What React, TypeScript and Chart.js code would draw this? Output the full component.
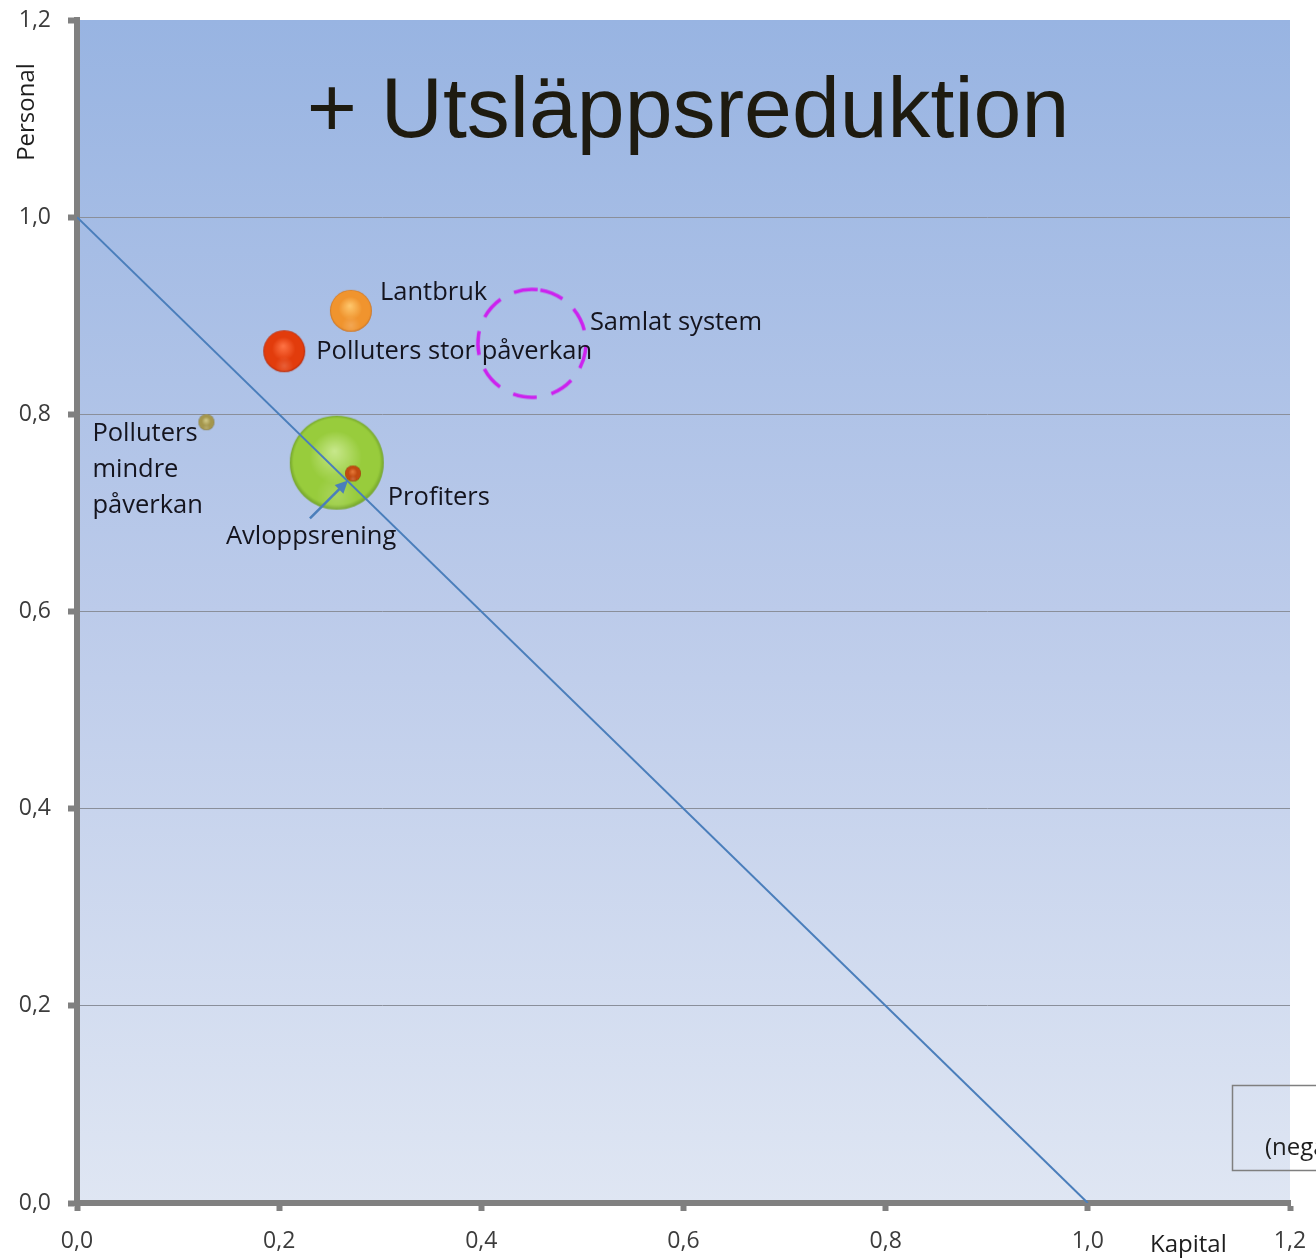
import { useEffect, useRef } from 'react';
import { Chart, registerables } from 'chart.js';

Chart.register(...registerables);

// ---- data ----
const bubbleNames = ['Lantbruk', 'Polluters stor påverkan', 'Polluters mindre påverkan', 'Profiters', 'Avloppsrening'];
const bubbleKapital = [0.271, 0.205, 0.128, 0.257, 0.273];
const bubblePersonal = [0.905, 0.864, 0.792, 0.751, 0.740];
const bubbleRadius = [21, 21, 8, 47, 8];

const systemName = 'Samlat system';
const systemKapital = 0.45;
const systemPersonal = 0.872;
const systemRadius = 54;

const lineKapital = [0, 1];
const linePersonal = [1, 0];

const tickValues = [0, 0.2, 0.4, 0.6, 0.8, 1.0, 1.2];

const chartTitle = '+ Utsläppsreduktion';
const xTitle = 'Kapital';
const yTitle = 'Personal';
const boxText = '(negativ påverkan)';

// ---- styles ----
const sphereColors = [
  ['#ffc86e', '#f0942e', '#c06a1e'],
  ['#ff7446', '#e23c0c', '#a8240a'],
  ['#d4cc8c', '#a4964c', '#6a5e2a'],
  ['#c8e88c', '#98cc3c', '#6a9a28'],
  ['#e87a3a', '#c04a10', '#7a2a08'],
];
const FONT = '"Open Sans", "Noto Sans", sans-serif';

function makeSphere(r: number, [light, base, dark]: string[]) {
  const c = document.createElement('canvas');
  const s = Math.ceil(r * 2 + 2);
  c.width = s;
  c.height = s;
  const ctx = c.getContext('2d')!;
  const cx = s / 2, cy = s / 2;
  const g = ctx.createRadialGradient(cx - r * 0.05, cy - r * 0.25, 0, cx, cy, r * 1.02);
  g.addColorStop(0, light);
  g.addColorStop(0.55, base);
  g.addColorStop(0.9, base);
  g.addColorStop(1, dark);
  ctx.fillStyle = g;
  ctx.beginPath();
  ctx.arc(cx, cy, r, 0, Math.PI * 2);
  ctx.fill();
  const g2 = ctx.createRadialGradient(cx, cy + r * 0.7, 0, cx, cy + r * 0.7, r * 0.45);
  g2.addColorStop(0, 'rgba(255,255,255,0.18)');
  g2.addColorStop(1, 'rgba(255,255,255,0)');
  ctx.fillStyle = g2;
  ctx.beginPath();
  ctx.arc(cx, cy, r, 0, Math.PI * 2);
  ctx.fill();
  return c;
}

function makeDashedCircle(r: number) {
  const c = document.createElement('canvas');
  const s = Math.ceil(r * 2 + 8);
  c.width = s;
  c.height = s;
  const ctx = c.getContext('2d')!;
  ctx.strokeStyle = '#cc22ee';
  ctx.lineWidth = 3.5;
  ctx.setLineDash([24, 15]);
  ctx.beginPath();
  ctx.arc(s / 2, s / 2, r, -Math.PI * 0.45, Math.PI * 1.55);
  ctx.stroke();
  return c;
}

const fmt = (v: number | string) => Number(v).toFixed(1).replace('.', ',');

export default function App() {
  const ref = useRef<HTMLCanvasElement>(null);

  useEffect(() => {
    const canvas = ref.current!;
    const bubbleOrders = [0, 0, 0, 2, 0];
    const datasets: any[] = bubbleNames.map((name, i) => ({
      label: name,
      data: [{ x: bubbleKapital[i], y: bubblePersonal[i] }],
      pointStyle: makeSphere(bubbleRadius[i], sphereColors[i]),
      pointRadius: bubbleRadius[i],
      showLine: false,
      order: bubbleOrders[i],
    }));
    datasets.push({
      label: systemName,
      data: [{ x: systemKapital, y: systemPersonal }],
      pointStyle: makeDashedCircle(systemRadius),
      pointRadius: systemRadius,
      showLine: false,
      order: 0,
    });
    datasets.push({
      label: 'line',
      data: lineKapital.map((x, i) => ({ x, y: linePersonal[i] })),
      showLine: true,
      borderColor: '#4a7ebb',
      borderWidth: 2,
      pointRadius: 0,
      order: 1,
    });

    const decor = {
      id: 'decor',
      beforeDraw(chart: any) {
        const { ctx, chartArea: a } = chart;
        ctx.save();
        ctx.fillStyle = '#ffffff';
        ctx.fillRect(0, 0, chart.width, chart.height);
        const g = ctx.createLinearGradient(0, a.top, 0, a.bottom);
        g.addColorStop(0, '#98b4e2');
        g.addColorStop(0.5, '#bccbea');
        g.addColorStop(1, '#dfe6f3');
        ctx.fillStyle = g;
        ctx.fillRect(a.left, a.top, a.right - a.left, a.bottom - a.top);
        ctx.restore();
      },
      beforeDatasetsDraw(chart: any) {
        const { ctx } = chart;
        ctx.save();
        ctx.fillStyle = '#1e1b10';
        ctx.font = '86px "Liberation Sans", Arial, sans-serif';
        ctx.textAlign = 'center';
        ctx.textBaseline = 'alphabetic';
        ctx.fillText(chartTitle, 688, 137);
        ctx.restore();
      },
      afterDatasetsDraw(chart: any) {
        const { ctx } = chart;
        ctx.save();
        ctx.fillStyle = '#14141e';
        ctx.font = `25.5px ${FONT}`;
        ctx.textBaseline = 'alphabetic';
        ctx.textAlign = 'left';
        const pos = (di: number) => {
          const el = chart.getDatasetMeta(di).data[0];
          return { x: el.x, y: el.y };
        };
        const offs: Record<number, [number, number][]> = {
          0: [[29, -11]],
          1: [[32, 8]],
          2: [[-114, 19], [-114, 55], [-114, 91]],
          3: [[51, 42]],
          4: [[-127, 71]],
        };
        const lines: Record<number, string[]> = {
          0: ['Lantbruk'],
          1: ['Polluters stor påverkan'],
          2: ['Polluters', 'mindre', 'påverkan'],
          3: ['Profiters'],
          4: ['Avloppsrening'],
        };
        for (let i = 0; i < bubbleNames.length; i++) {
          const p = pos(i);
          lines[i].forEach((t, k) => ctx.fillText(t, p.x + offs[i][k][0], p.y + offs[i][k][1]));
        }
        const ps = pos(5);
        ctx.fillText(systemName, ps.x + 58, ps.y - 13);

        const pa = pos(4);
        const tipX = pa.x - 5, tipY = pa.y + 7;
        const tailX = pa.x - 43, tailY = pa.y + 45;
        const ang = Math.atan2(tipY - tailY, tipX - tailX);
        ctx.strokeStyle = '#4a7ebb';
        ctx.fillStyle = '#4a7ebb';
        ctx.lineWidth = 2.5;
        ctx.beginPath();
        ctx.moveTo(tailX, tailY);
        ctx.lineTo(tipX - Math.cos(ang) * 8, tipY - Math.sin(ang) * 8);
        ctx.stroke();
        ctx.beginPath();
        ctx.moveTo(tipX, tipY);
        ctx.lineTo(tipX - Math.cos(ang - 0.45) * 14, tipY - Math.sin(ang - 0.45) * 14);
        ctx.lineTo(tipX - Math.cos(ang + 0.45) * 14, tipY - Math.sin(ang + 0.45) * 14);
        ctx.closePath();
        ctx.fill();
        ctx.restore();
      },
      afterDraw(chart: any) {
        const { ctx } = chart;
        ctx.save();
        ctx.fillStyle = '#1e1e1e';
        ctx.font = `24px ${FONT}`;
        ctx.textBaseline = 'alphabetic';
        ctx.textAlign = 'left';
        ctx.fillText(xTitle, 1150, 1252);
        ctx.translate(34, 112);
        ctx.rotate(-Math.PI / 2);
        ctx.textAlign = 'center';
        ctx.fillText(yTitle, 0, 0);
        ctx.restore();

        ctx.save();
        ctx.strokeStyle = '#7f7f7f';
        ctx.lineWidth = 1.5;
        ctx.strokeRect(1232.5, 1085.5, 120, 85);
        ctx.fillStyle = '#1e1e1e';
        ctx.font = `24px ${FONT}`;
        ctx.fillText(boxText, 1265, 1155);
        ctx.restore();
      },
    };

    const chart = new Chart(canvas, {
      type: 'scatter',
      data: { datasets },
      options: {
        responsive: false,
        animation: false,
        events: [],
        layout: { autoPadding: false, padding: { top: 20, right: 26, left: 0, bottom: 0 } },
        plugins: { legend: { display: false }, tooltip: { enabled: false } },
        scales: {
          x: {
            type: 'linear',
            min: 0,
            max: 1.2,
            afterFit: (s: any) => { s.height = 57; s.paddingLeft = 0; s.paddingRight = 0; },
            afterBuildTicks: (s: any) => { s.ticks = tickValues.map((v) => ({ value: v })); },
            ticks: {
              callback: fmt,
              font: { family: FONT, size: 23 },
              color: '#3c3c3c',
              padding: 17,
              maxRotation: 0,
            },
            grid: {
              drawOnChartArea: false,
              drawTicks: true,
              tickLength: 8,
              tickWidth: 6,
              tickColor: '#808080',
            },
            border: { display: true, color: '#808080', width: 6 },
          },
          y: {
            type: 'linear',
            min: 0,
            max: 1.2,
            afterFit: (s: any) => { s.width = 77; s.paddingTop = 0; s.paddingBottom = 0; },
            afterBuildTicks: (s: any) => { s.ticks = tickValues.map((v) => ({ value: v })); },
            ticks: {
              callback: fmt,
              font: { family: FONT, size: 23 },
              color: '#3c3c3c',
              padding: 17,
            },
            grid: {
              color: (c: any) => (c.tick && c.tick.value >= 1.2 ? 'rgba(0,0,0,0)' : '#8a8f9a'),
              lineWidth: 1,
              drawTicks: true,
              tickLength: 9,
              tickWidth: 6,
              tickColor: '#808080',
            },
            border: { display: true, color: '#808080', width: 6 },
          },
        },
      },
      plugins: [decor],
    } as any);
    return () => chart.destroy();
  }, []);

  return (
    <div style={{ position: 'fixed', left: 0, top: 0, width: 1316, height: 1260, background: '#fff', overflow: 'hidden' }}>
      <canvas ref={ref} width={1316} height={1260} style={{ display: 'block' }} />
    </div>
  );
}
